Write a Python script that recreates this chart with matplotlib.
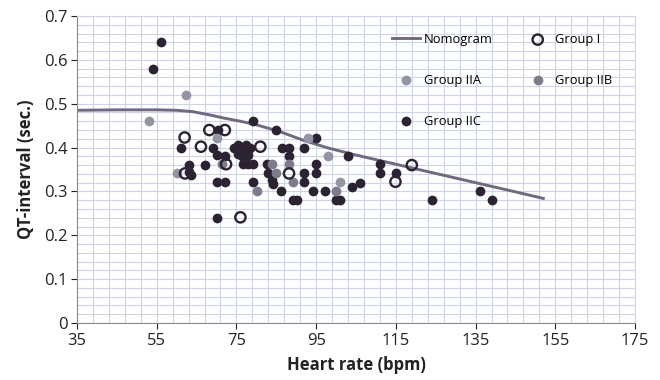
import numpy as np
import matplotlib
matplotlib.use("Agg")
import matplotlib.pyplot as plt

plt.rcParams['font.family'] = ['Open Sans', 'DejaVu Sans']

# Nomogram curve
nomo_hr = [35, 45, 55, 60, 64, 68, 72, 76, 80, 86, 92, 98, 105, 115, 125, 135, 145, 152]
nomo_qt = [0.485, 0.486, 0.486, 0.485, 0.482, 0.475, 0.467, 0.460, 0.452, 0.436, 0.416,
           0.399, 0.383, 0.362, 0.341, 0.320, 0.299, 0.284]

# Group I (open circles)
g1_hr = [68.2, 72.1, 62.0, 66.1, 81.0, 72.4, 62.1, 88.2, 76.0, 114.9, 119.0]
g1_qt = [0.44, 0.44, 0.423, 0.402, 0.402, 0.362, 0.341, 0.341, 0.241, 0.322, 0.36]

# Group IIA (light grey)
g2a_hr = [62.3, 53.1, 70.2, 60.2, 98.0, 101.0, 93.0]
g2a_qt = [0.52, 0.46, 0.422, 0.343, 0.381, 0.322, 0.421]

# Group IIB (mid grey)
g2b_hr = [71.3, 83.8, 85.0, 88.2, 89.1, 80.1, 100.1]
g2b_qt = [0.363, 0.362, 0.341, 0.362, 0.322, 0.302, 0.302]

# Group IIC (dark)
g2c_hr = [56, 54, 79.2, 85, 70.3, 61, 69, 70.2, 72.2, 63.2, 67.2, 63, 63.5, 70.1, 72.1, 70.2,
          74.5, 75.5, 76.5, 77.5, 78.3, 75.5, 77, 76.5, 77.8,
          76.7, 77.9, 79.1, 82.6, 83, 84, 84.3, 79.2, 86.1, 86.4, 88.3, 88.3, 89.3, 90.3,
          91.9, 95, 92, 92, 95, 95, 94.1, 97.1, 100.1, 101, 102.9, 103.9, 106,
          110.9, 110.9, 115, 124, 136, 139]
g2c_qt = [0.64, 0.58, 0.46, 0.44, 0.44, 0.40, 0.40, 0.383, 0.381, 0.36, 0.36, 0.345, 0.338, 0.322, 0.322, 0.24,
          0.40, 0.405, 0.40, 0.405, 0.40, 0.385, 0.39, 0.38, 0.383,
          0.362, 0.362, 0.362, 0.362, 0.343, 0.325, 0.318, 0.322, 0.302, 0.40, 0.40, 0.381, 0.28, 0.28,
          0.40, 0.421, 0.341, 0.322, 0.362, 0.341, 0.302, 0.302, 0.28, 0.28, 0.381, 0.31, 0.32,
          0.362, 0.342, 0.342, 0.28, 0.302, 0.28]

fig = plt.figure(figsize=(6.6, 3.8), dpi=100)
ax = fig.add_axes([77/660, 1 - 323/380, (635 - 77)/660, (323 - 16)/380])

# graph-paper grid
grid_col = '#cdd4e6'
for gx in np.arange(35, 176, 4):
    ax.axvline(gx, color=grid_col, lw=0.8, zorder=0)
for gy in np.arange(0, 0.701, 0.02):
    ax.axhline(gy, color=grid_col, lw=0.8, zorder=0)

ax.plot(nomo_hr, nomo_qt, color='#6f6a80', lw=2.1, label='Nomogram', zorder=2)
ax.scatter(g2c_hr, g2c_qt, s=36, color='#2b2232', label='Group IIC', zorder=3)
ax.scatter(g2a_hr, g2a_qt, s=36, color='#9495a3', label='Group IIA', zorder=4)
ax.scatter(g2b_hr, g2b_qt, s=36, color='#7e7b8b', label='Group IIB', zorder=4)
ax.scatter(g1_hr, g1_qt, s=55, facecolors='none', edgecolors='#2b2232', linewidths=1.7,
           label='Group I', zorder=5)

ax.set_xlim(35, 175)
ax.set_ylim(0, 0.7)
ax.set_xticks(np.arange(35, 176, 20))
ax.set_yticks([0, 0.1, 0.2, 0.3, 0.4, 0.5, 0.6, 0.7])
ax.set_yticklabels(['0', '0.1', '0.2', '0.3', '0.4', '0.5', '0.6', '0.7'])
ax.tick_params(labelsize=12, colors='#222222', length=4, width=0.8, pad=3)
for side in ['left', 'bottom']:
    ax.spines[side].set_color('#8a8a96')
for side in ['top', 'right']:
    ax.spines[side].set_color(grid_col)

ax.set_xlabel('Heart rate (bpm)', fontsize=12, fontweight='bold', color='#222222', labelpad=5)
ax.set_ylabel('QT-interval (sec.)', fontsize=12, fontweight='bold', color='#222222', labelpad=6)

h, l = ax.get_legend_handles_labels()
order = ['Nomogram', 'Group IIA', 'Group IIC', 'Group I', 'Group IIB']
hd = dict(zip(l, h))
ax.legend([hd[k] for k in order], order, ncol=2, loc='upper left',
          bbox_to_anchor=(392/660, 1 - 33/380), bbox_transform=fig.transFigure,
          frameon=False, fontsize=9.3, labelspacing=2.15, columnspacing=2.4,
          handlelength=2.2, handletextpad=0.25, borderpad=0, borderaxespad=0)

fig.savefig('out.png', dpi=100)
